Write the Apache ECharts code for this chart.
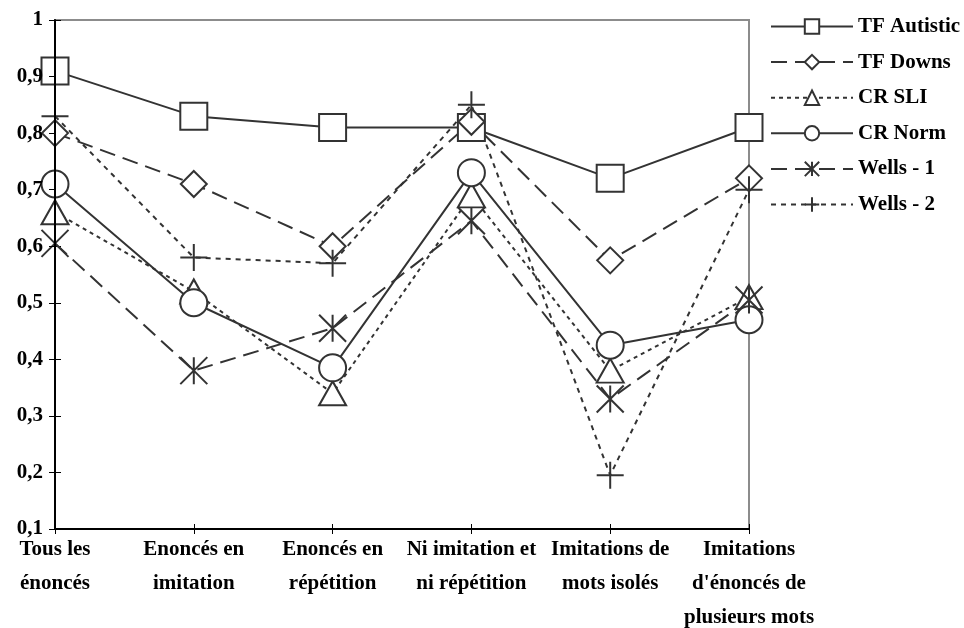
<!DOCTYPE html>
<html>
<head>
<meta charset="utf-8">
<script src="https://cdn.jsdelivr.net/npm/echarts@6/dist/echarts.min.js"></script>
<style>
html,body{margin:0;padding:0;background:#fff;}
#c{width:964px;height:628px;}
</style>
</head>
<body>
<div id="c"></div>
<script>
// ---- data ----
var categories = [
  "Tous les\nénoncés",
  "Enoncés en\nimitation",
  "Enoncés en\nrépétition",
  "Ni imitation et\nni répétition",
  "Imitations de\nmots isolés",
  "Imitations\nd'énoncés de\nplusieurs mots"
];
var seriesNames = ["TF Autistic", "TF Downs", "CR SLI", "CR Norm", "Wells - 1", "Wells - 2"];
var tfAutistic = [0.91, 0.83, 0.81, 0.81, 0.72, 0.81];
var tfDowns    = [0.80, 0.71, 0.60, 0.82, 0.575, 0.72];
var crSLI      = [0.66, 0.52, 0.34, 0.69, 0.38, 0.51];
var crNorm     = [0.71, 0.50, 0.385, 0.73, 0.425, 0.47];
var wells1     = [0.605, 0.38, 0.455, 0.645, 0.33, 0.505];
var wells2     = [0.83, 0.58, 0.57, 0.85, 0.195, 0.70];
var yMin = 0.1, yMax = 1, yStep = 0.1;
var yTickLabels = ["0,1","0,2","0,3","0,4","0,5","0,6","0,7","0,8","0,9","1"];

// ---- styling ----
var INK = '#333333';
var FONT = '"Liberation Serif", "Times New Roman", serif';
var ASTER = 'path://M0,0 L20,20 M20,0 L0,20 M10,0 L10,20';
var PLUS = 'path://M10,0 L10,20 M0,10 L20,10';

function mk(name, data, symbol, size, dash) {
  return {
    name: name,
    type: 'line',
    data: data,
    symbol: symbol,
    symbolSize: size,
    showAllSymbol: true,
    animation: false,
    lineStyle: { color: INK, width: 2, type: dash },
    itemStyle: { color: '#ffffff', borderColor: INK, borderWidth: 2 },
    emphasis: { disabled: true }
  };
}

var chart = echarts.init(document.getElementById('c'), null, { renderer: 'canvas' });
var axisCommon = { color: '#000', fontFamily: FONT, fontWeight: 'bold', fontSize: 21 };

chart.setOption({
  backgroundColor: '#ffffff',
  animation: false,
  grid: { left: 55, right: 215, top: 20, bottom: 99, show: true, borderColor: '#8c8c8c', borderWidth: 2,
          backgroundColor: 'transparent', containLabel: false, outerBoundsMode: 'none' },
  legend: {
    orient: 'vertical',
    left: 765,
    top: 11,
    itemWidth: 82,
    itemHeight: 18,
    itemGap: 14.6,
    data: seriesNames,
    textStyle: { color: '#000', fontFamily: FONT, fontWeight: 'bold', fontSize: 21 },
    selectedMode: false
  },
  xAxis: [{
    type: 'category',
    data: categories,
    boundaryGap: false,
    axisLine: { lineStyle: { color: '#000', width: 2 } },
    axisTick: { show: true, alignWithLabel: true, length: 5, lineStyle: { color: '#000', width: 1 } },
    axisLabel: Object.assign({ interval: 0, margin: 4, lineHeight: 34 }, axisCommon),
    splitLine: { show: false }
  }, {
    type: 'category',
    data: categories,
    boundaryGap: false,
    position: 'bottom',
    axisLine: { show: false },
    axisTick: { show: true, inside: true, length: 5, lineStyle: { color: '#000', width: 1 } },
    axisLabel: { show: false },
    splitLine: { show: false }
  }],
  yAxis: [{
    type: 'value',
    min: yMin, max: yMax, interval: yStep,
    z: 10,
    axisLine: { show: true, lineStyle: { color: '#000', width: 2 } },
    axisTick: { show: true, length: 6, lineStyle: { color: '#000', width: 1 } },
    axisLabel: Object.assign({ margin: 12, formatter: function (v) {
      var i = Math.round((v - yMin) / yStep);
      return yTickLabels[i];
    } }, axisCommon),
    splitLine: { show: false }
  }, {
    type: 'value',
    min: yMin, max: yMax, interval: yStep,
    position: 'left',
    axisLine: { show: false },
    axisTick: { show: true, inside: true, length: 6, lineStyle: { color: '#000', width: 1 } },
    axisLabel: { show: false },
    splitLine: { show: false }
  }],
  series: [
    mk(seriesNames[0], tfAutistic, 'rect', 27, 'solid'),
    mk(seriesNames[1], tfDowns, 'diamond', 26, [16, 8]),
    mk(seriesNames[2], crSLI, 'triangle', [27, 24], [4, 4]),
    mk(seriesNames[3], crNorm, 'circle', 27, 'solid'),
    mk(seriesNames[4], wells1, ASTER, 27, [16, 8]),
    mk(seriesNames[5], wells2, PLUS, 27, [5, 5])
  ]
});
</script>
</body>
</html>
